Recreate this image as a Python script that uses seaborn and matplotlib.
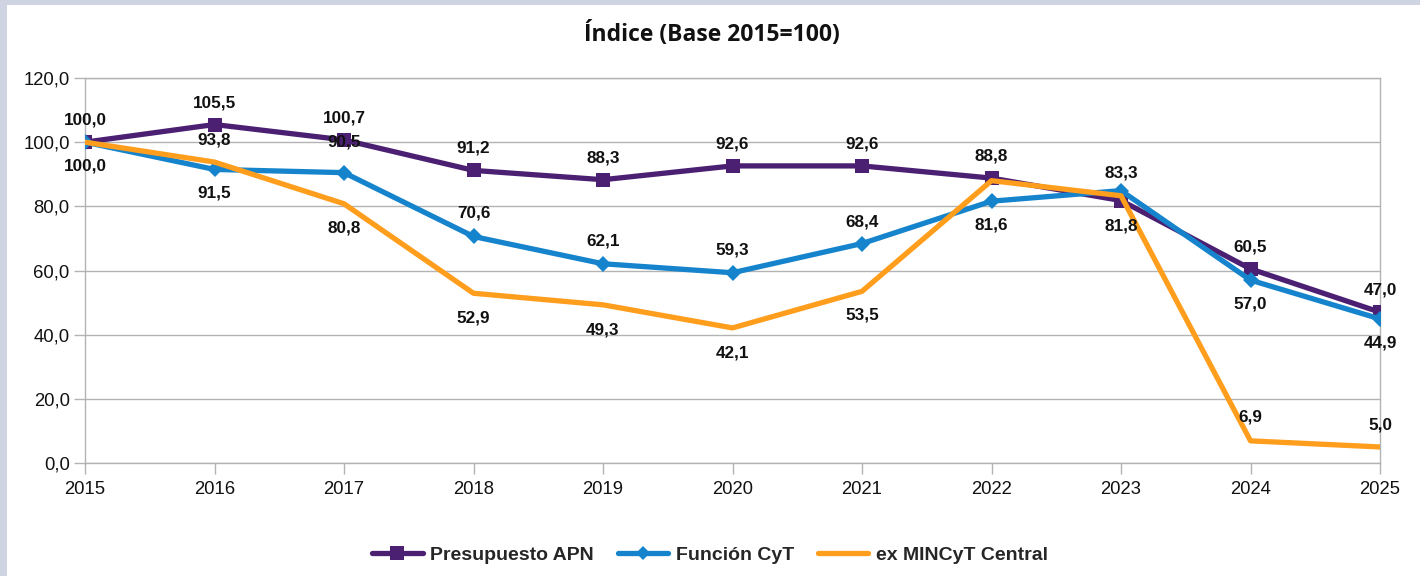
import numpy as np
import pandas as pd
import seaborn as sns
import matplotlib.pyplot as plt
from matplotlib.patches import Rectangle
from matplotlib.ticker import FuncFormatter

# datos
years = [2015, 2016, 2017, 2018, 2019, 2020, 2021, 2022, 2023, 2024, 2025]
apn = [100.0, 105.5, 100.7, 91.2, 88.3, 92.6, 92.6, 88.8, 81.8, 60.5, 47.0]
cyt = [100.0, 91.5, 90.5, 70.6, 62.1, 59.3, 68.4, 81.6, 84.9, 57.0, 44.9]
mincyt = [100.0, 93.8, 80.8, 52.9, 49.3, 42.1, 53.5, 88.0, 83.3, 6.9, 5.0]

series_names = ['Presupuesto APN', 'Función CyT', 'ex MINCyT Central']
colors = ['#4b1f72', '#1584cc', '#ff9d1c']
markers = ['s', 'D', None]
msizes = [10, 8, 0]

# etiquetas: offset vertical en pixeles (negativo = arriba), None = sin etiqueta
apn_off = [-22, -22, -22, -22, -22, -22, -22, -22, 25, -22, -22]
cyt_off = [24, 24, -31, -23, -23, -23, -22, 24, None, 24, 24]
mincyt_off = [None, -22, 24, 25, 25, 25, 24, None, -23, -24, -22]

sns.set_style('white')
plt.rcParams['font.family'] = ['Liberation Sans', 'DejaVu Sans']

fig = plt.figure(figsize=(14.2, 5.76), dpi=100)
fig.patch.set_facecolor('#cfd4e2')
fig.add_artist(Rectangle((7 / 1420, 0), 1, 1 - 5 / 576, transform=fig.transFigure,
                         facecolor='white', edgecolor='none', zorder=0))

ax = fig.add_axes([85 / 1420, (576 - 463) / 576, (1380 - 85) / 1420, (463 - 78) / 576])
ax.set_facecolor('white')

for name, vals, c, m, ms in zip(series_names, [apn, cyt, mincyt], colors, markers, msizes):
    sns.lineplot(x=years, y=vals, color=c, marker=m, markersize=ms, markeredgewidth=0,
                 linewidth=3.8, ax=ax, zorder=3, label=name, legend=False)

# etiquetas de datos
for vals, offs in [(apn, apn_off), (cyt, cyt_off), (mincyt, mincyt_off)]:
    for x, v, o in zip(years, vals, offs):
        if o is None:
            continue
        ax.annotate(f'{v:.1f}'.replace('.', ','), (x, v), xytext=(0, -o),
                    textcoords='offset pixels', ha='center', va='center',
                    fontsize=12.3, fontweight='bold', color='#111111', zorder=5)

ax.set_xlim(2015, 2025)
ax.set_ylim(0, 120)
ax.set_xticks(years)
ax.set_yticks(np.arange(0, 121, 20))
ax.yaxis.set_major_formatter(FuncFormatter(lambda v, p: f'{v:.1f}'.replace('.', ',')))
ax.grid(axis='y', color='#b3b3b3', linewidth=1)
ax.tick_params(axis='both', length=8, width=1, color='#b3b3b3', labelsize=13.3,
               labelcolor='#111111', left=True, bottom=True)
ax.tick_params(axis='x', pad=5)
ax.tick_params(axis='y', pad=3)
for s in ['left', 'right', 'top', 'bottom']:
    ax.spines[s].set_color('#b3b3b3')
    ax.spines[s].set_linewidth(1)
ax.set_xlabel('')
ax.set_ylabel('')

fig.text(0.501, 1 - 35 / 576, 'Índice (Base 2015=100)', ha='center', va='center',
         fontsize=16.5, fontweight='bold', family=['Open Sans', 'DejaVu Sans'], color='#111111')

handles = [plt.Line2D([], [], color=colors[0], marker='s', lw=3.8, markersize=10, markeredgewidth=0),
           plt.Line2D([], [], color=colors[1], marker='D', lw=3.8, markersize=7, markeredgewidth=0),
           plt.Line2D([], [], color=colors[2], lw=3.8)]
fig.legend(handles, series_names, loc='center', bbox_to_anchor=(0.5, 1 - 555 / 576),
           ncol=3, frameon=False, handlelength=2.6, columnspacing=1.2, handletextpad=0.4,
           prop={'weight': 'bold', 'size': 14})

fig.savefig('out.png', dpi=100, facecolor=fig.get_facecolor())
